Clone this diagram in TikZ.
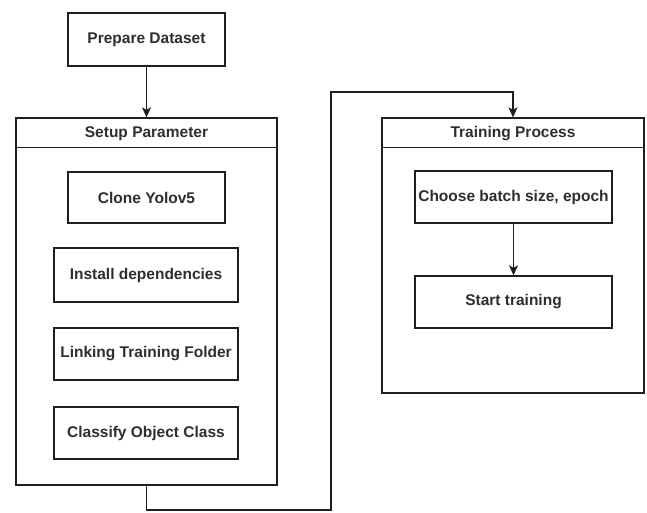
\documentclass[tikz,border=0pt]{standalone}
\usepackage{fontspec}
\setmainfont{Liberation Sans}
\usetikzlibrary{arrows.meta,calc}
\definecolor{linec}{HTML}{1E1E1E}
\definecolor{textc}{HTML}{2E2E2E}
\tikzset{
  box/.style={draw=linec, line width=1.3pt, fill=white, inner sep=0pt, font=\fontsize{15.5}{18}\selectfont\bfseries, text=textc},
  frame/.style={draw=linec, line width=1.3pt, inner sep=0pt},
  title/.style={inner sep=0pt, font=\fontsize{15.5}{18}\selectfont\bfseries, text=textc},
  conn/.style={draw=linec, line width=1.3pt},
  arr/.style={conn, -{Stealth[length=10pt,width=9pt,inset=2.5pt]}}
}
\begin{document}
\begin{tikzpicture}[x=1pt,y=-1pt]
\useasboundingbox (0,0) rectangle (647,512);
% left
\node[box, minimum width=157pt, minimum height=53pt] (prep) at (146.5,39.5) {Prepare Dataset};
\node[frame, minimum width=261pt, minimum height=367pt] (setup) at (146.5,301.5) {};
\draw[conn] ($(setup.north west)+(0,30)$) -- ($(setup.north east)+(0,30)$);
\node[title] (setuptitle) at (146.5,133.5) {Setup Parameter};
\node[box, minimum width=157pt, minimum height=51pt] (clone) at (146.5,197.5) {Clone Yolov5};
\node[box, minimum width=184pt, minimum height=54pt] (install) at (146,275) {Install dependencies};
\node[box, minimum width=184pt, minimum height=52pt] (link) at (146,354) {Linking Training Folder};
\node[box, minimum width=184pt, minimum height=52pt] (classify) at (146,433) {Classify Object Class};
% right
\node[frame, minimum width=262pt, minimum height=275pt] (train) at (513,255.5) {};
\draw[conn] ($(train.north west)+(0,30)$) -- ($(train.north east)+(0,30)$);
\node[title] (traintitle) at (513,133.5) {Training Process};
\node[box, minimum width=197pt, minimum height=52pt] (choose) at (513.5,197) {Choose batch size, epoch};
\node[box, minimum width=197pt, minimum height=52pt] (start) at (513.5,302) {Start training};
% connectors
\coordinate (lo) at (0,510);
\coordinate (c1) at (331,92);
\draw[arr] (prep.south) -- (setup.north);
\draw[arr] (setup.south) -- (setup.south |- lo) -| (c1) -| (train.north);
\draw[arr] (choose.south) -- (start.north);
\end{tikzpicture}
\end{document}
